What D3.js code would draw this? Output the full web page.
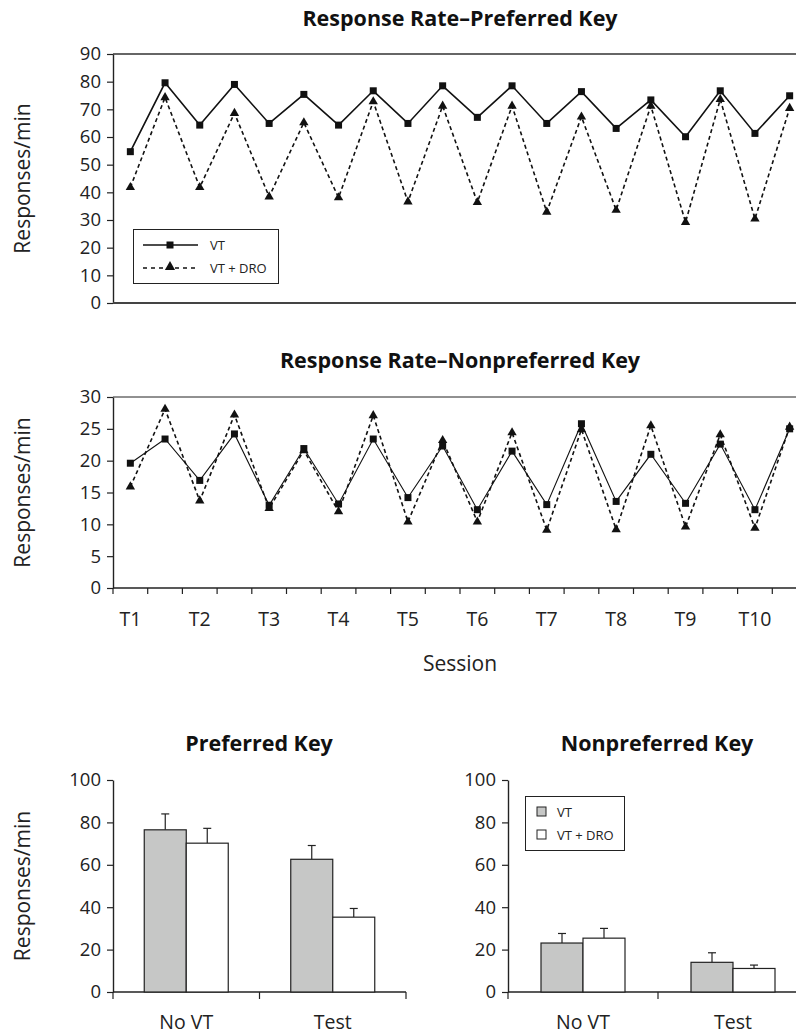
<!DOCTYPE html>
<html><head><meta charset="utf-8">
<script src="https://cdn.jsdelivr.net/npm/d3@7"></script>
<style>
body{margin:0;background:#fff;}
svg{display:block;font-family:"Open Sans",sans-serif;}
</style></head>
<body>
<svg id="c" width="796" height="1034"></svg>
<script>
// ---- data ----
const sessions = d3.range(1, 21);
const sessionLabels = ["T1","T2","T3","T4","T5","T6","T7","T8","T9","T10"];
const prefVT    = [54.7,79.6,64.3,79.0,64.9,75.4,64.3,76.7,64.9,78.5,67.1,78.5,64.9,76.4,63.1,73.4,60.1,76.7,61.3,74.9];
const prefDRO   = [41.8,74.3,41.8,68.6,38.4,65.2,38.1,72.8,36.6,71.2,36.4,71.2,32.9,67.3,33.6,71.2,29.2,73.6,30.4,70.4];
const nonVT     = [19.6,23.4,16.9,24.2,13.0,21.9,13.2,23.4,14.2,22.3,12.3,21.5,13.1,25.8,13.6,21.0,13.3,22.6,12.3,25.0];
const nonDRO    = [15.9,28.1,13.7,27.2,12.5,21.6,12.0,27.1,10.4,23.2,10.4,24.4,9.1,24.9,9.2,25.5,9.6,24.1,9.4,25.3];
const prefTicks = [0,10,20,30,40,50,60,70,80,90];
const nonTicks  = [0,5,10,15,20,25,30];
const barTicks  = [0,20,40,60,80,100];
const phases    = ["No VT","Test"];
const conds     = ["VT","VT + DRO"];
const prefBarMean = [[76.5,70.2],[62.6,35.3]];
const prefBarErr  = [[84.0,77.2],[69.1,39.4]];
const nonBarMean  = [[23.1,25.4],[14.0,11.1]];
const nonBarErr   = [[27.6,30.0],[18.5,12.7]];

const svg = d3.select("#c");
const AX = "#222";
const TITLE_FS = 21.5, TICK_FS = 18.5, LABEL_FS = 21, CAT_FS = 19.5, LEG_FS = 13;

function lineChart(cfg){
  const g = svg.append("g");
  const x = d3.scaleBand().domain(sessions).range([113, 807]).padding(0);
  const y = d3.scaleLinear().domain(cfg.domain).range([cfg.bottom, cfg.top]);
  g.append("text").attr("x", 460).attr("y", cfg.titleY).attr("text-anchor","middle")
    .attr("font-weight","bold").attr("font-size", TITLE_FS).attr("fill","#111").text(cfg.title);
  g.append("text").attr("transform",`translate(30,${(cfg.top+cfg.bottom)/2}) rotate(-90)`)
    .attr("text-anchor","middle").attr("font-size",LABEL_FS).attr("fill","#222").text("Responses/min");
  g.append("line").attr("x1",113).attr("x2",796).attr("y1",cfg.top).attr("y2",cfg.top)
    .attr("stroke",cfg.topColor).attr("stroke-width",cfg.topWidth);
  const ya = g.append("g").attr("transform","translate(113,0)")
    .call(d3.axisLeft(y).tickValues(cfg.ticks).tickSize(6).tickSizeOuter(0).tickPadding(6));
  ya.select(".domain").attr("stroke",AX).attr("stroke-width",1.4);
  ya.selectAll(".tick line").attr("stroke",AX).attr("stroke-width",1.2);
  ya.selectAll("text").attr("font-size",TICK_FS).attr("fill","#222").attr("font-family","Open Sans");
  if(cfg.xticks){
    const xa = g.append("g").attr("transform",`translate(0,${cfg.bottom})`);
    xa.append("line").attr("x1",113).attr("x2",796).attr("stroke",AX).attr("stroke-width",1.4);
    const bounds = d3.range(0, 21).map(i => 113 + i*x.bandwidth());
    xa.selectAll("line.tk").data(bounds).join("line").attr("class","tk")
      .attr("x1",d=>d).attr("x2",d=>d).attr("y1",0).attr("y2",6).attr("stroke",AX).attr("stroke-width",1.2);
    xa.selectAll("text").data(sessionLabels).join("text")
      .attr("x",(d,i)=>x(sessions[i*2]) + x.bandwidth()/2).attr("y",38)
      .attr("text-anchor","middle").attr("font-size",CAT_FS).attr("fill","#222").text(d=>d);
    g.append("text").attr("x",460).attr("y",cfg.bottom+83).attr("text-anchor","middle")
      .attr("font-size",LABEL_FS).attr("fill","#222").text("Session");
  } else {
    g.append("line").attr("x1",113).attr("x2",796).attr("y1",cfg.bottom).attr("y2",cfg.bottom)
      .attr("stroke","#444").attr("stroke-width",2);
  }
  const cx = d => x(d) + x.bandwidth()/2;
  const ln = vals => d3.line().x((d,i)=>cx(sessions[i])).y(d=>y(d))(vals);
  g.append("path").attr("d", ln(cfg.dro)).attr("fill","none").attr("stroke","#111")
    .attr("stroke-width",1.6).attr("stroke-dasharray","4,3");
  g.append("path").attr("d", ln(cfg.vt)).attr("fill","none").attr("stroke","#111")
    .attr("stroke-width",cfg.vtWidth);
  const tri = d3.symbol().type(d3.symbolTriangle).size(38);
  g.selectAll("path.tri").data(cfg.dro).join("path").attr("class","tri")
    .attr("transform",(d,i)=>`translate(${cx(sessions[i])},${y(d)})`).attr("d",tri()).attr("fill","#111");
  g.selectAll("rect.sq").data(cfg.vt).join("rect").attr("class","sq")
    .attr("x",(d,i)=>cx(sessions[i])-3.5).attr("y",d=>y(d)-3.5).attr("width",7).attr("height",7).attr("fill","#111");
  return g;
}

const g1 = lineChart({title:"Response Rate\u2013Preferred Key", titleY:26, top:54, bottom:303, domain:[0,90],
  ticks:prefTicks, vt:prefVT, dro:prefDRO, topColor:"#666", topWidth:2, xticks:false, vtWidth:1.6});
const g2 = lineChart({title:"Response Rate\u2013Nonpreferred Key", titleY:368, top:397, bottom:588, domain:[0,30],
  ticks:nonTicks, vt:nonVT, dro:nonDRO, topColor:"#222", topWidth:1, xticks:true, vtWidth:1.1});

// legend for top chart
const lg = g1.append("g");
lg.append("rect").attr("x",133.5).attr("y",229.5).attr("width",145).attr("height",54)
  .attr("fill","#fff").attr("stroke","#222").attr("stroke-width",1);
lg.append("line").attr("x1",143).attr("x2",198).attr("y1",245).attr("y2",245).attr("stroke","#111").attr("stroke-width",1.3);
lg.append("rect").attr("x",166.5).attr("y",241.5).attr("width",7).attr("height",7).attr("fill","#111");
lg.append("line").attr("x1",143).attr("x2",198).attr("y1",268).attr("y2",268).attr("stroke","#111")
  .attr("stroke-width",1.5).attr("stroke-dasharray","4,4");
lg.append("path").attr("transform","translate(170,267)").attr("d",d3.symbol().type(d3.symbolTriangle).size(45)()).attr("fill","#111");
lg.append("text").attr("x",210).attr("y",250).attr("font-size",LEG_FS).attr("fill","#222").text(conds[0]);
lg.append("text").attr("x",210).attr("y",273).attr("font-size",LEG_FS).attr("fill","#222").text(conds[1]);

// bar charts
function barChart(cfg){
  const g = svg.append("g");
  const x = d3.scaleBand().domain(phases).range([cfg.x0, cfg.x1]).padding(0);
  const y = d3.scaleLinear().domain([0,100]).range([992, 780]);
  const bw = 42;
  const sub = d3.scaleBand().domain(conds).range([0, 2*bw]);
  g.append("text").attr("x",cfg.titleX).attr("y",751).attr("text-anchor","middle")
    .attr("font-weight","bold").attr("font-size",TITLE_FS).attr("fill","#111").text(cfg.title);
  if(cfg.ylabel){
    g.append("text").attr("transform",`translate(30,${(780+992)/2}) rotate(-90)`)
      .attr("text-anchor","middle").attr("font-size",LABEL_FS).attr("fill","#222").text("Responses/min");
  }
  const ya = g.append("g").attr("transform",`translate(${cfg.x0},0)`)
    .call(d3.axisLeft(y).tickValues(barTicks).tickSize(6).tickSizeOuter(0).tickPadding(6));
  ya.select(".domain").attr("stroke",AX).attr("stroke-width",1.4);
  ya.selectAll(".tick line").attr("stroke",AX).attr("stroke-width",1.2);
  ya.selectAll("text").attr("font-size",TICK_FS).attr("fill","#222").attr("font-family","Open Sans");
  g.append("line").attr("x1",cfg.x0).attr("x2",Math.min(cfg.x1,796)).attr("y1",992).attr("y2",992).attr("stroke",AX).attr("stroke-width",1.4);
  [cfg.x0, cfg.x0 + x.bandwidth(), cfg.x1].forEach(t=>{
    g.append("line").attr("x1",t).attr("x2",t).attr("y1",992).attr("y2",999).attr("stroke",AX).attr("stroke-width",1.2);
  });
  phases.forEach((p,pi)=>{
    const gx = x(p) + x.bandwidth()/2 - bw;
    conds.forEach((c,ci)=>{
      const bx = gx + sub(c);
      const v = cfg.mean[pi][ci], e = cfg.err[pi][ci];
      const ex = bx + bw/2;
      g.append("line").attr("x1",ex).attr("x2",ex).attr("y1",y(v)).attr("y2",y(e)).attr("stroke","#222").attr("stroke-width",1.2);
      g.append("line").attr("x1",ex-4).attr("x2",ex+4).attr("y1",y(e)).attr("y2",y(e)).attr("stroke","#222").attr("stroke-width",1.2);
      g.append("rect").attr("x",bx).attr("y",y(v)).attr("width",bw).attr("height",992-y(v))
        .attr("fill", ci===0 ? "#c6c7c6" : "#fff").attr("stroke","#222").attr("stroke-width",1.2);
    });
    g.append("text").attr("x",x(p)+x.bandwidth()/2).attr("y",1029).attr("text-anchor","middle")
      .attr("font-size",CAT_FS).attr("fill","#222").text(p);
  });
  return g;
}
barChart({x0:113, x1:406, title:"Preferred Key", titleX:259, mean:prefBarMean, err:prefBarErr, ylabel:true});
const g4 = barChart({x0:508, x1:808, title:"Nonpreferred Key", titleX:657, mean:nonBarMean, err:nonBarErr, ylabel:false});
const bl = g4.append("g");
bl.append("rect").attr("x",525.5).attr("y",796.5).attr("width",99).attr("height",54).attr("fill","#fff").attr("stroke","#222").attr("stroke-width",1);
bl.append("rect").attr("x",537).attr("y",807).attr("width",9).attr("height",9).attr("fill","#c6c7c6").attr("stroke","#222").attr("stroke-width",1);
bl.append("rect").attr("x",537).attr("y",830).attr("width",9).attr("height",9).attr("fill","#fff").attr("stroke","#222").attr("stroke-width",1);
bl.append("text").attr("x",557).attr("y",816.5).attr("font-size",LEG_FS).attr("fill","#222").text(conds[0]);
bl.append("text").attr("x",557).attr("y",839.5).attr("font-size",LEG_FS).attr("fill","#222").text(conds[1]);
</script>
</body></html>
